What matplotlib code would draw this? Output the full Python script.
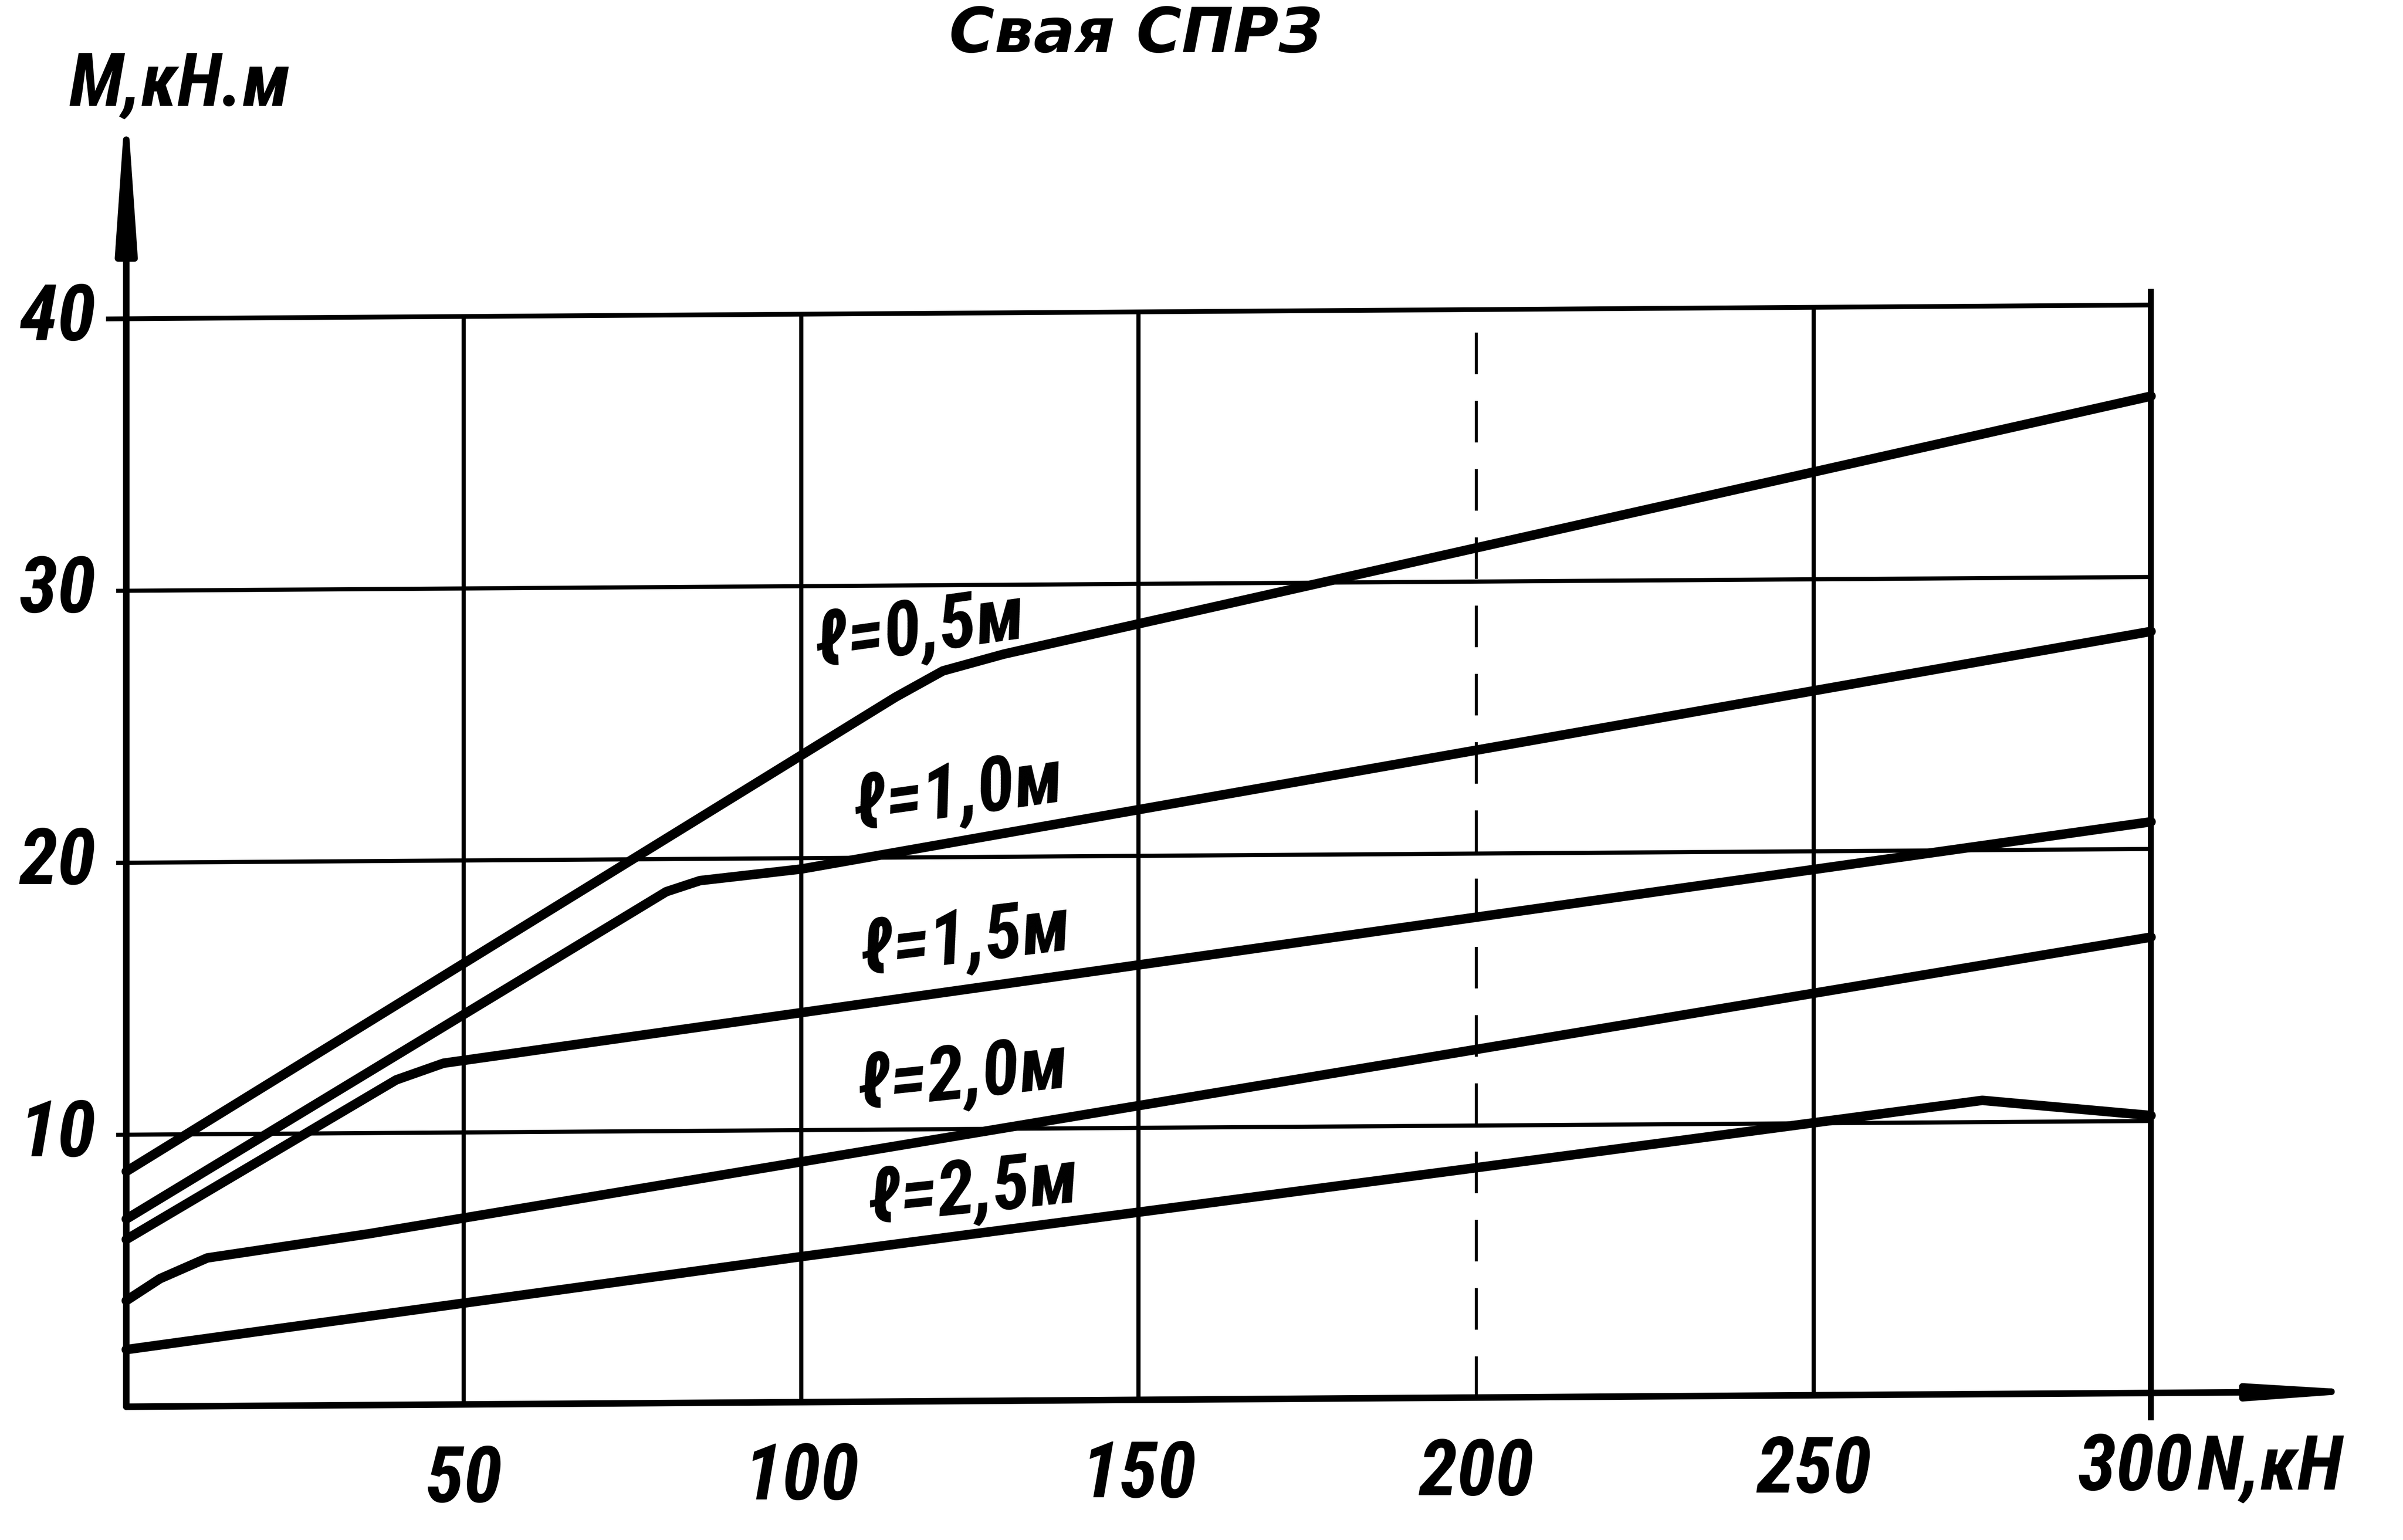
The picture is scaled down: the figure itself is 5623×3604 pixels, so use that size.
import os
import warnings
import numpy as np
import matplotlib
matplotlib.use('Agg')
import matplotlib.pyplot as plt
from matplotlib.transforms import Affine2D
from matplotlib import font_manager as fm

# ---------------- data ----------------
n_05 = [0, 114, 121, 130, 300]
m_05 = [8.65, 25.9, 26.85, 27.45, 36.65]
n_10 = [0, 80, 85, 100, 300]
m_10 = [6.9, 18.8, 19.2, 19.6, 28.0]
n_15 = [0, 40, 47, 300]
m_15 = [6.15, 11.95, 12.55, 21.0]
n_20 = [0, 5, 12, 36, 300]
m_20 = [3.9, 4.7, 5.45, 6.3, 16.76]
n_25 = [0, 100, 200, 275, 300]
m_25 = [2.1, 5.35, 8.45, 10.8, 10.2]

curve_labels = ['ℓ=0,5м', 'ℓ=1,0м', 'ℓ=1,5м', 'ℓ=2,0м', 'ℓ=2,5м']
label_n = [117.6, 123.3, 124.4, 124.0, 125.5]
label_m = [28.3, 22.3, 16.9, 11.9, 7.7]
label_rot = [8, 8, 7, 6, 6]

x_ticks = [50, 100, 150, 200, 250, 300]
x_tick_labels = ['50', '100', '150', '200', '250', '300']
y_ticks = [10, 20, 30, 40]
y_tick_labels = ['10', '20', '30', '40']
title_text = 'Свая СПРЗ'
y_label = 'M,кН.м'
x_label = 'N,кН'


# ---------------- fonts: prefer a narrow face (hand lettering is tall and narrow) ----------------
def pick_font():
    cands = ['Liberation Sans Narrow', 'Roboto Condensed', 'Open Sans Condensed',
             'DejaVu Sans Condensed', 'Noto Sans Condensed', 'Noto Sans',
             'Open Sans', 'Roboto', 'Liberation Sans']
    with warnings.catch_warnings():
        warnings.simplefilter('ignore')
        for fam in cands:
            for stretch in ('condensed', 'normal'):
                try:
                    path = fm.findfont(fm.FontProperties(family=fam, stretch=stretch,
                                                         weight='bold', style='italic'),
                                       fallback_to_default=False)
                except Exception:
                    continue
                name = os.path.basename(path).lower()
                if 'narrow' in name or 'condensed' in name:
                    return fam, stretch, True
    return 'DejaVu Sans', 'normal', False


BASE, STRETCH, NARROW = pick_font()
FAM = [BASE, 'DejaVu Sans']
fs_scale = 1.0 if NARROW else 0.74

# ---------------- figure ----------------
W, H, DPI = 5623, 3604, 100
fig = plt.figure(figsize=(W / DPI, H / DPI), dpi=DPI)
fig.patch.set_facecolor('white')
ax = fig.add_axes([0, 0, 1, 1])
ax.set_xlim(-18.71, 337.33)
ax.set_ylim(-4.90, 51.72)
ax.axis('off')

# slight shear of the hand drawing: right side sits a little higher
k = 0.0068
xo = 295.5
T = ax.transData + Affine2D(np.array([[1, 0, 0], [k, 1, -k * xo], [0, 0, 1]]))

INK = 'black'
grid_lw = 7
curve_lw = 16
axis_lw = 11

TXT = dict(family=FAM, fontstretch=STRETCH, fontweight='bold', fontstyle='italic',
           color=INK, transform=T)

# grid: verticals
for xv in x_ticks:
    if xv == 300:
        ax.plot([xv, xv], [-1.0, 40.6], color=INK, lw=10, transform=T,
                solid_capstyle='butt')
    elif xv == 200:
        ax.plot([xv, xv], [0, 40], color=INK, lw=5, transform=T,
                dashes=[14, 9], solid_capstyle='butt')
    else:
        ax.plot([xv, xv], [0, 40], color=INK, lw=grid_lw, transform=T,
                solid_capstyle='butt')
# grid: horizontals
for yv in y_ticks:
    x_start = -3 if yv == 40 else -1.5
    ax.plot([x_start, 300], [yv, yv], color=INK, lw=grid_lw + (1 if yv == 40 else 0),
            transform=T, solid_capstyle='butt')

# axes with arrows
ax.annotate('', xy=(0, 48.3), xytext=(0, 0), xycoords=T, textcoords=T,
            arrowprops=dict(arrowstyle='-|>,head_length=20,head_width=1.4',
                            mutation_scale=10, lw=axis_lw, color=INK,
                            shrinkA=0, shrinkB=0))
ax.annotate('', xy=(334, 0), xytext=(0, 0), xycoords=T, textcoords=T,
            arrowprops=dict(arrowstyle='-|>,head_length=15,head_width=1.0',
                            mutation_scale=10, lw=axis_lw, color=INK,
                            shrinkA=0, shrinkB=0))

# curves
for nn, mm in [(n_05, m_05), (n_10, m_10), (n_15, m_15), (n_20, m_20), (n_25, m_25)]:
    ax.plot(nn, mm, color=INK, lw=curve_lw, transform=T,
            solid_joinstyle='round', solid_capstyle='round')

# curve labels
for txt, xn, ym, rot in zip(curve_labels, label_n, label_m, label_rot):
    ax.text(xn, ym, txt, fontsize=128 * fs_scale, ha='center', va='center',
            rotation=rot, rotation_mode='anchor', **TXT)

# tick labels
for yv, lab in zip(y_ticks, y_tick_labels):
    ax.text(-4.5, yv, lab, fontsize=132 * fs_scale, ha='right', va='center', **TXT)
for xv, lab in zip(x_ticks, x_tick_labels):
    if xv == x_ticks[-1]:
        ax.text(306.2, -2.8, lab, fontsize=132 * fs_scale, ha='right', va='center', **TXT)
    else:
        ax.text(xv, -2.8, lab, fontsize=132 * fs_scale, ha='center', va='center', **TXT)

# axis titles
ax.text(306.8, -2.8, x_label, fontsize=128 * fs_scale, ha='left', va='center', **TXT)
ax.text(-8.5, 48.6, y_label, fontsize=125 * fs_scale, ha='left', va='center', **TXT)

# title at the very top edge (kept fully inside the picture)
ax.text(149.6, 49.55, title_text, transform=T, family=['DejaVu Sans'],
        fontweight='bold', fontstyle='italic', color=INK,
        fontsize=104, ha='center', va='baseline')

fig.savefig('out.png', dpi=DPI, facecolor='white')
